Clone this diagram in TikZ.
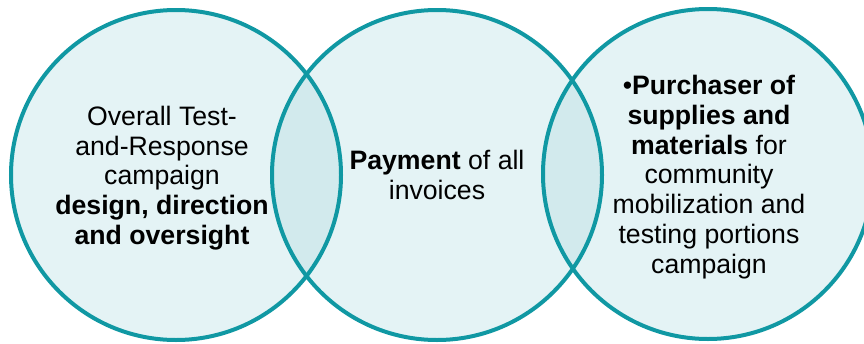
\documentclass[tikz,border=0pt]{standalone}
\usepackage{fontspec}
\setmainfont{Liberation Sans}
\definecolor{ring}{RGB}{16,152,163}
\definecolor{fillA}{RGB}{228,243,245}
\definecolor{fillB}{RGB}{210,234,237}
\begin{document}
\begin{tikzpicture}[x=0.75pt,y=-0.75pt,
  lbl/.style={font=\fontsize{20}{22.3}\selectfont, align=center, text=black, inner sep=0pt},
  ringline/.style={draw=ring, line width=3pt}]
\useasboundingbox (0,0) rectangle (864,343);
\clip (0,0) rectangle (864,343);
\coordinate (cL) at (176,175);
\coordinate (cM) at (437,175);
\coordinate (cR) at (708,174);
\def\R{165}
\fill[fillA] (cL) circle (\R);
\fill[fillA] (cM) circle (\R);
\fill[fillA] (cR) circle (\R);
\begin{scope}
  \clip (cL) circle (\R);
  \fill[fillB] (cM) circle (\R);
\end{scope}
\begin{scope}
  \clip (cM) circle (\R);
  \fill[fillB] (cR) circle (\R);
\end{scope}
\draw[ringline] (cL) circle (\R);
\draw[ringline] (cM) circle (\R);
\draw[ringline] (cR) circle (\R);
\node[lbl] (tL) at (162,178) {Overall Test-\\and-Response\\campaign\\\textbf{design, direction}\\\textbf{and oversight}};
\node[lbl] (tM) at (437,175) {\textbf{Payment} of all\\invoices};
\node[lbl] (tR) at (709,177) {•\textbf{Purchaser of}\\\textbf{supplies and}\\\textbf{materials} for\\community\\mobilization and\\testing portions\\campaign};
\end{tikzpicture}
\end{document}
